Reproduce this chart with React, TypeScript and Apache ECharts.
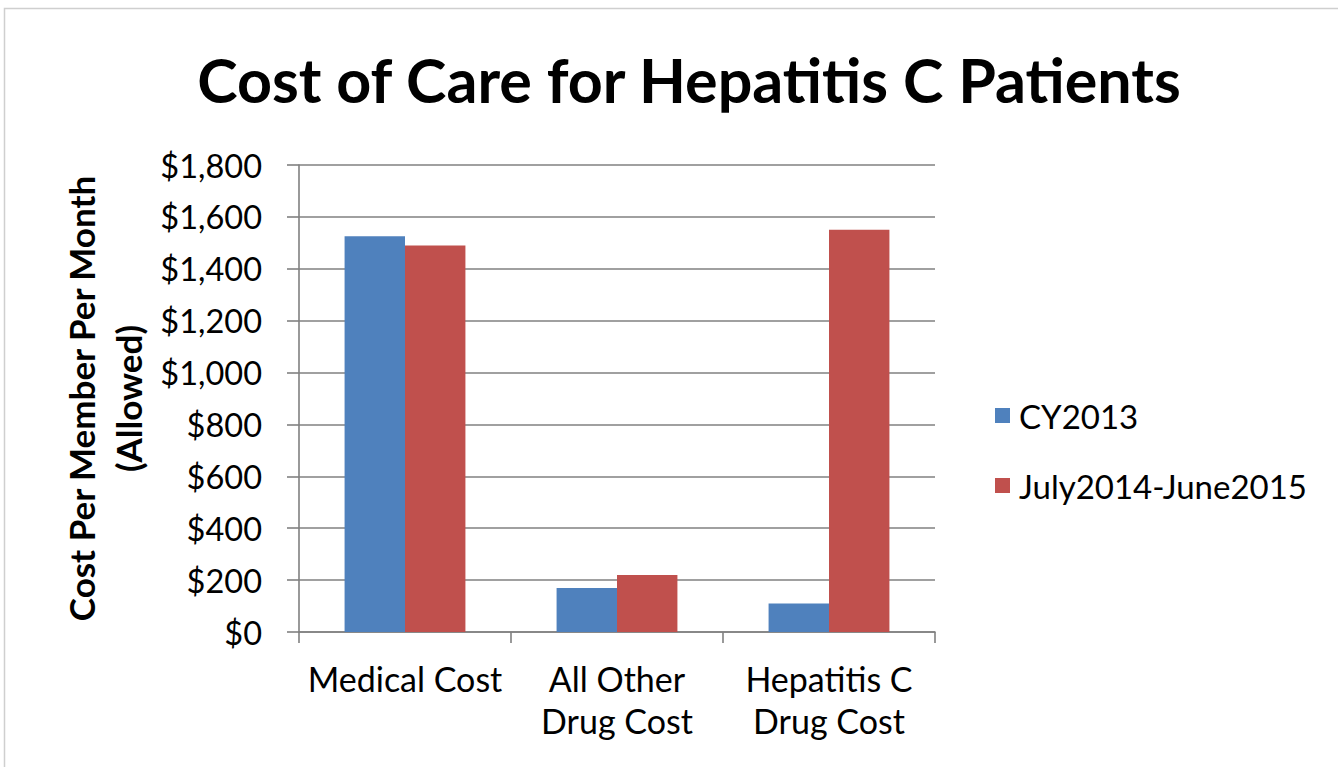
import React, { useEffect, useRef } from "react";
import * as echarts from "echarts";

const categories = ["Medical Cost", "All Other\nDrug Cost", "Hepatitis C\nDrug Cost"];
const seriesNames = ["CY2013", "July2014-June2015"];
const cy2013 = [1525, 170, 110];
const july2014 = [1490, 220, 1550];
const yTicks = { min: 0, max: 1800, interval: 200 };

const FONT = "Lato";

export default function App() {
  const ref = useRef<HTMLDivElement>(null);
  useEffect(() => {
    if (!ref.current) return;
    const chart = echarts.init(ref.current, undefined, { renderer: "svg" });
    chart.setOption({
      animation: false,
      backgroundColor: "#ffffff",
      title: {
        text: "Cost of Care for Hepatitis C Patients",
        left: 684,
        top: 44,
        textAlign: "center",
        textStyle: { fontFamily: FONT, fontWeight: "bold", fontSize: 61, color: "#000" },
      },
      graphic: [
        {
          type: "rect",
          shape: { x: 4.5, y: 8.5, width: 1400, height: 800 },
          style: { fill: "none", stroke: "#cfcfcf", lineWidth: 1.5 },
          silent: true,
        },
      ],
      legend: {
        orient: "vertical",
        left: 990,
        top: 394,
        itemWidth: 15,
        itemHeight: 15,
        itemGap: 37,
        icon: "rect",
        textStyle: { fontFamily: FONT, fontSize: 33, color: "#000", padding: [0, 0, 0, 4] },
        data: seriesNames,
      },
      grid: { left: 299, right: 403, top: 165, bottom: 135, containLabel: false },
      xAxis: {
        type: "category",
        data: categories,
        axisLine: { lineStyle: { color: "#808080", width: 1.6 } },
        axisTick: { show: true, length: 11, lineStyle: { color: "#808080", width: 1.6 } },
        axisLabel: {
          fontFamily: FONT,
          fontSize: 34,
          color: "#000",
          margin: 25,
          lineHeight: 42,
          interval: 0,
        },
      },
      yAxis: {
        type: "value",
        min: yTicks.min,
        max: yTicks.max,
        interval: yTicks.interval,
        name: "Cost Per Member Per Month\n(Allowed)",
        nameLocation: "middle",
        nameGap: 148,
        nameTextStyle: { fontFamily: FONT, fontWeight: "bold", fontSize: 35, color: "#000", lineHeight: 47 },
        axisLine: { show: true, lineStyle: { color: "#808080", width: 1.6 } },
        axisTick: { show: true, length: 12, lineStyle: { color: "#808080", width: 1.6 } },
        splitLine: { show: true, lineStyle: { color: "#808080", width: 1.6 } },
        axisLabel: {
          fontFamily: FONT,
          fontSize: 32.5,
          color: "#000",
          margin: 37,
          formatter: (v: number) => "$" + v.toLocaleString("en-US"),
        },
      },
      series: [
        {
          name: seriesNames[0],
          type: "bar",
          data: cy2013,
          barGap: "0%",
          barCategoryGap: "43%",
          itemStyle: { color: "#4F81BD" },
        },
        {
          name: seriesNames[1],
          type: "bar",
          data: july2014,
          barGap: "0%",
          barCategoryGap: "43%",
          itemStyle: { color: "#C0504D" },
        },
      ],
    });
    return () => chart.dispose();
  }, []);
  return (
    <div
      ref={ref}
      style={{ position: "fixed", left: 0, top: 0, width: "1338px", height: "767px" }}
    />
  );
}
